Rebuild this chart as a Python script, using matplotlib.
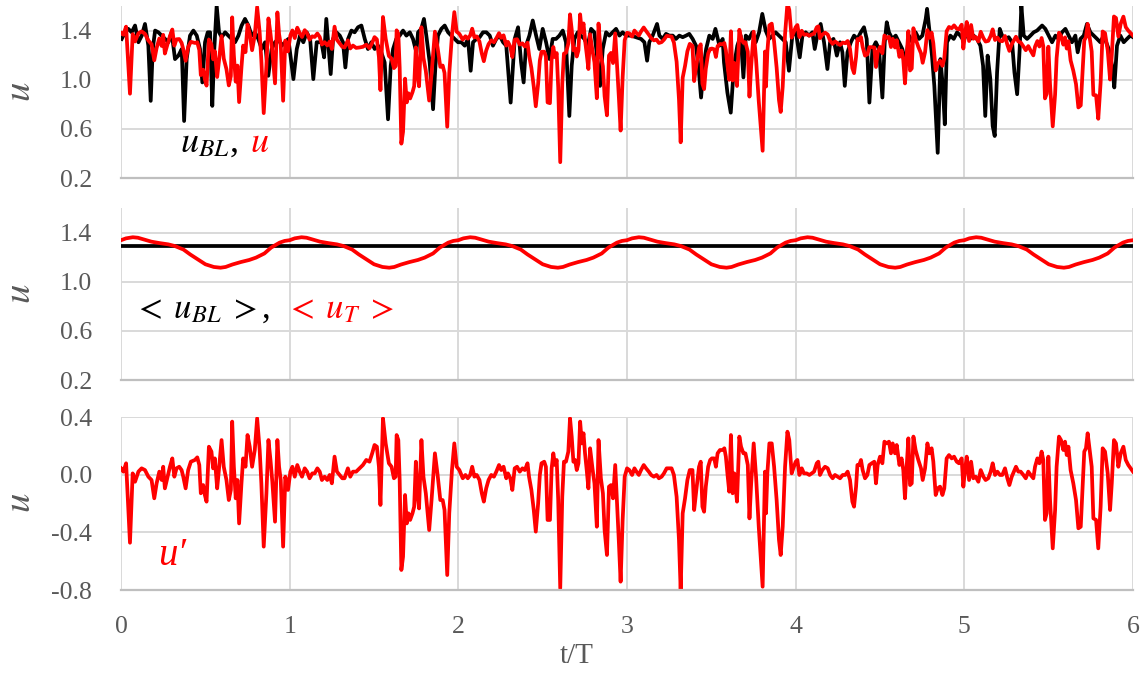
import numpy as np
import matplotlib.pyplot as plt

# u' (fluctuation)
t_prime = [
    0.000, 0.014, 0.030, 0.053, 0.069, 0.083, 0.103, 0.122, 0.142, 0.162,
    0.181, 0.197, 0.211, 0.227, 0.241, 0.250, 0.260, 0.276, 0.290, 0.304,
    0.316, 0.329, 0.345, 0.359, 0.369, 0.383, 0.398, 0.414, 0.438, 0.452,
    0.464, 0.473, 0.487, 0.497, 0.507, 0.521, 0.536, 0.546, 0.556, 0.570,
    0.582, 0.596, 0.609, 0.625, 0.639, 0.651, 0.659, 0.669, 0.680, 0.690,
    0.700, 0.714, 0.724, 0.738, 0.750, 0.763, 0.777, 0.793, 0.807, 0.822,
    0.832, 0.846, 0.862, 0.874, 0.886, 0.897, 0.913, 0.927, 0.937, 0.947,
    0.961, 0.974, 0.990, 1.004, 1.016, 1.030, 1.045, 1.059, 1.073, 1.089,
    1.103, 1.118, 1.134, 1.148, 1.164, 1.178, 1.191, 1.207, 1.223, 1.237,
    1.250, 1.266, 1.280, 1.296, 1.312, 1.325, 1.345, 1.359, 1.375, 1.394,
    1.414, 1.434, 1.454, 1.473, 1.489, 1.503, 1.517, 1.529, 1.538, 1.553,
    1.569, 1.588, 1.604, 1.618, 1.628, 1.634, 1.644, 1.652, 1.662, 1.672,
    1.684, 1.694, 1.704, 1.714, 1.728, 1.738, 1.748, 1.757, 1.767, 1.781,
    1.793, 1.807, 1.827, 1.841, 1.861, 1.877, 1.893, 1.907, 1.918, 1.934,
    1.946, 1.962, 1.976, 1.990, 2.006, 2.026, 2.042, 2.056, 2.070, 2.082,
    2.095, 2.109, 2.125, 2.139, 2.151, 2.165, 2.179, 2.195, 2.211, 2.225,
    2.241, 2.254, 2.268, 2.284, 2.294, 2.308, 2.320, 2.334, 2.348, 2.364,
    2.380, 2.394, 2.410, 2.419, 2.433, 2.447, 2.459, 2.473, 2.483, 2.493,
    2.509, 2.519, 2.529, 2.543, 2.553, 2.563, 2.573, 2.583, 2.592, 2.604,
    2.616, 2.626, 2.638, 2.652, 2.662, 2.672, 2.682, 2.692, 2.702, 2.712,
    2.722, 2.732, 2.742, 2.751, 2.761, 2.771, 2.781, 2.795, 2.807, 2.821,
    2.831, 2.845, 2.857, 2.867, 2.881, 2.893, 2.905, 2.917, 2.930, 2.940,
    2.952, 2.962, 2.974, 2.986, 3.000, 3.014, 3.030, 3.044, 3.056, 3.070,
    3.083, 3.099, 3.113, 3.129, 3.143, 3.159, 3.175, 3.189, 3.205, 3.219,
    3.235, 3.249, 3.264, 3.278, 3.294, 3.308, 3.318, 3.330, 3.344, 3.358,
    3.372, 3.388, 3.398, 3.412, 3.427, 3.437, 3.447, 3.457, 3.467, 3.481,
    3.493, 3.503, 3.517, 3.527, 3.537, 3.551, 3.567, 3.577, 3.586, 3.596,
    3.606, 3.616, 3.626, 3.636, 3.652, 3.666, 3.676, 3.690, 3.702, 3.716,
    3.726, 3.736, 3.751, 3.765, 3.781, 3.804, 3.818, 3.824, 3.832, 3.844,
    3.858, 3.872, 3.887, 3.901, 3.911, 3.923, 3.937, 3.951, 3.962, 3.976,
    3.986, 4.000, 4.010, 4.022, 4.036, 4.049, 4.065, 4.081, 4.095, 4.109,
    4.125, 4.134, 4.144, 4.158, 4.174, 4.190, 4.204, 4.219, 4.233, 4.249,
    4.263, 4.279, 4.294, 4.308, 4.322, 4.336, 4.346, 4.358, 4.366, 4.377,
    4.387, 4.397, 4.411, 4.425, 4.437, 4.451, 4.466, 4.476, 4.486, 4.500,
    4.514, 4.526, 4.540, 4.553, 4.565, 4.575, 4.589, 4.599, 4.615, 4.628,
    4.638, 4.648, 4.658, 4.668, 4.678, 4.688, 4.698, 4.711, 4.727, 4.743,
    4.753, 4.767, 4.781, 4.792, 4.806, 4.816, 4.830, 4.842, 4.856, 4.870,
    4.881, 4.895, 4.909, 4.925, 4.939, 4.955, 4.968, 4.984, 4.994, 5.004,
    5.014, 5.028, 5.040, 5.053, 5.067, 5.083, 5.097, 5.113, 5.126, 5.142,
    5.156, 5.168, 5.182, 5.196, 5.211, 5.225, 5.241, 5.255, 5.267, 5.281,
    5.294, 5.306, 5.320, 5.334, 5.350, 5.364, 5.379, 5.393, 5.409, 5.419,
    5.433, 5.445, 5.458, 5.468, 5.478, 5.488, 5.498, 5.508, 5.524, 5.538,
    5.547, 5.561, 5.573, 5.587, 5.597, 5.607, 5.617, 5.630, 5.646, 5.662,
    5.676, 5.690, 5.702, 5.711, 5.721, 5.731, 5.745, 5.755, 5.765, 5.781,
    5.794, 5.808, 5.820, 5.834, 5.850, 5.864, 5.874, 5.887, 5.899, 5.913,
    5.927, 5.943, 5.957, 5.972, 6.000,
]
u_prime = [
    0.044, 0.021, 0.079, -0.472, 0.009, -0.049, 0.021, 0.044, 0.032, -0.014,
    -0.037, -0.164, -0.060, 0.021, -0.037, 0.055, -0.095, -0.014, 0.055, 0.113,
    -0.014, 0.044, 0.055, 0.032, -0.014, -0.095, 0.032, 0.090, 0.102, 0.120,
    0.067, -0.129, -0.072, -0.141, -0.187, 0.194, 0.160, 0.044, 0.113, -0.095,
    0.055, 0.240, 0.055, -0.037, -0.176, -0.106, 0.368, 0.055, -0.164, -0.037,
    -0.338, -0.060, 0.113, 0.055, 0.275, 0.194, 0.055, 0.171, 0.391, 0.171,
    -0.060, -0.499, -0.129, 0.240, 0.102, -0.049, -0.326, 0.240, 0.055, -0.037,
    -0.499, -0.014, -0.106, 0.021, 0.055, -0.014, 0.067, 0.021, -0.014, 0.044,
    0.021, -0.025, 0.009, 0.009, 0.044, 0.021, -0.037, -0.014, -0.037, -0.002,
    -0.060, 0.125, 0.021, -0.002, -0.025, -0.025, 0.044, -0.014, 0.021, 0.021,
    0.044, 0.067, 0.102, 0.090, 0.148, 0.206, 0.194, 0.055, -0.210, 0.391,
    0.217, 0.079, 0.055, -0.025, -0.014, 0.275, 0.240, -0.037, -0.661, -0.569,
    -0.141, -0.338, -0.268, -0.314, -0.268, -0.222, 0.090, -0.129, -0.234, 0.240,
    -0.014, -0.129, -0.384, -0.176, 0.148, -0.002, -0.176, -0.176, -0.245, -0.696,
    -0.268, 0.032, 0.217, 0.055, 0.032, -0.025, -0.002, -0.025, -0.002, 0.055,
    -0.014, -0.002, -0.037, -0.129, -0.187, -0.095, -0.037, -0.002, -0.014, 0.021,
    0.067, 0.032, 0.055, -0.025, 0.009, -0.025, -0.106, 0.044, 0.055, 0.021,
    0.044, 0.032, 0.079, -0.014, -0.106, -0.245, -0.395, -0.199, -0.002, 0.079,
    0.090, 0.055, -0.314, -0.314, 0.044, 0.148, 0.067, 0.102, -0.176, -0.788,
    -0.153, 0.090, 0.090, 0.160, 0.391, 0.264, 0.090, 0.102, 0.032, 0.079,
    0.368, 0.217, 0.287, 0.148, 0.032, -0.095, 0.183, 0.044, -0.060, -0.361,
    0.240, -0.025, -0.129, -0.384, -0.557, -0.083, -0.072, -0.164, 0.067, -0.176,
    -0.476, -0.742, -0.314, -0.014, 0.044, 0.032, -0.002, 0.044, 0.021, -0.002,
    0.032, 0.067, 0.044, 0.021, -0.002, -0.014, -0.002, -0.025, -0.014, 0.009,
    0.044, 0.044, 0.044, -0.002, -0.153, -0.453, -0.800, -0.268, -0.164, -0.037,
    0.032, 0.032, -0.245, -0.095, 0.055, 0.090, -0.222, -0.257, -0.083, 0.055,
    0.102, 0.113, 0.113, 0.055, 0.148, 0.171, 0.171, 0.183, 0.125, -0.002,
    -0.118, 0.275, -0.129, 0.009, -0.187, 0.264, 0.194, 0.148, 0.148, 0.067,
    -0.303, -0.060, 0.217, -0.014, -0.361, -0.777, 0.021, -0.268, 0.009, 0.217,
    0.217, 0.055, -0.176, -0.453, -0.557, -0.361, 0.055, 0.298, 0.240, 0.009,
    0.044, 0.090, 0.102, -0.002, 0.044, 0.009, 0.009, -0.002, 0.009, 0.021,
    0.079, 0.090, -0.002, 0.032, 0.055, 0.044, -0.002, -0.025, -0.002, -0.014,
    -0.025, -0.002, -0.002, 0.021, -0.037, -0.187, -0.222, -0.083, 0.067, 0.067,
    0.102, 0.032, -0.025, -0.002, 0.067, 0.079, 0.090, -0.060, 0.067, 0.125,
    0.079, 0.229, 0.217, 0.229, 0.148, 0.217, 0.148, 0.206, 0.067, 0.113,
    0.032, -0.164, 0.055, 0.252, -0.072, -0.060, 0.264, 0.171, 0.102, 0.044,
    -0.037, 0.044, 0.217, 0.148, 0.183, 0.090, -0.141, -0.095, -0.083, -0.141,
    -0.095, 0.113, 0.136, 0.113, 0.125, 0.090, 0.079, 0.113, -0.083, 0.032,
    0.125, -0.037, 0.090, -0.025, -0.014, -0.049, 0.032, -0.014, -0.037, -0.025,
    0.021, 0.079, -0.002, 0.021, -0.002, -0.002, 0.044, -0.025, -0.072, -0.014,
    0.021, 0.055, 0.021, 0.021, -0.002, -0.025, 0.021, -0.002, -0.025, 0.055,
    0.113, 0.079, 0.160, 0.102, -0.314, -0.268, 0.125, -0.176, -0.511, -0.245,
    0.055, 0.264, 0.240, 0.171, 0.229, 0.136, 0.194, 0.032, -0.060, -0.176,
    -0.372, -0.361, -0.060, 0.160, 0.183, 0.287, 0.148, 0.055, -0.303, -0.314,
    -0.511, -0.222, 0.183, 0.160, 0.009, -0.245, -0.060, 0.240, 0.217, 0.055,
    0.148, 0.194, 0.102, 0.067, 0.021,
]

# u_BL (black)
t_bl = [
    0.004, 0.024, 0.043, 0.063, 0.083, 0.103, 0.123, 0.142, 0.162, 0.176,
    0.188, 0.202, 0.221, 0.241, 0.261, 0.281, 0.300, 0.320, 0.340, 0.360,
    0.374, 0.389, 0.409, 0.429, 0.449, 0.468, 0.482, 0.498, 0.514, 0.528,
    0.541, 0.553, 0.567, 0.581, 0.597, 0.617, 0.636, 0.656, 0.676, 0.696,
    0.715, 0.735, 0.755, 0.775, 0.794, 0.814, 0.834, 0.854, 0.873, 0.893,
    0.913, 0.933, 0.953, 0.972, 0.992, 1.022, 1.042, 1.061, 1.081, 1.101,
    1.121, 1.140, 1.160, 1.188, 1.204, 1.217, 1.231, 1.243, 1.257, 1.277,
    1.297, 1.316, 1.330, 1.346, 1.366, 1.385, 1.405, 1.425, 1.445, 1.464,
    1.484, 1.504, 1.524, 1.543, 1.563, 1.583, 1.599, 1.613, 1.632, 1.652,
    1.672, 1.692, 1.712, 1.731, 1.751, 1.761, 1.780, 1.796, 1.810, 1.830,
    1.850, 1.864, 1.879, 1.899, 1.919, 1.939, 1.958, 1.978, 1.998, 2.018,
    2.038, 2.057, 2.073, 2.087, 2.107, 2.126, 2.146, 2.166, 2.186, 2.205,
    2.225, 2.245, 2.265, 2.284, 2.310, 2.334, 2.354, 2.372, 2.387, 2.401,
    2.421, 2.441, 2.461, 2.480, 2.500, 2.520, 2.540, 2.559, 2.579, 2.599,
    2.619, 2.638, 2.658, 2.672, 2.688, 2.708, 2.727, 2.747, 2.767, 2.787,
    2.806, 2.822, 2.840, 2.856, 2.876, 2.895, 2.915, 2.935, 2.955, 2.974,
    2.994, 3.024, 3.053, 3.083, 3.103, 3.119, 3.132, 3.152, 3.178, 3.192,
    3.211, 3.231, 3.251, 3.271, 3.290, 3.310, 3.330, 3.350, 3.369, 3.389,
    3.409, 3.425, 3.439, 3.455, 3.469, 3.488, 3.508, 3.524, 3.548, 3.567,
    3.575, 3.595, 3.615, 3.634, 3.654, 3.674, 3.690, 3.704, 3.723, 3.743,
    3.763, 3.783, 3.802, 3.822, 3.842, 3.862, 3.881, 3.901, 3.921, 3.941,
    3.960, 3.980, 4.000, 4.024, 4.040, 4.059, 4.079, 4.099, 4.113, 4.128,
    4.148, 4.168, 4.188, 4.204, 4.224, 4.244, 4.263, 4.277, 4.291, 4.307,
    4.327, 4.346, 4.366, 4.386, 4.405, 4.421, 4.437, 4.455, 4.475, 4.494,
    4.514, 4.528, 4.540, 4.553, 4.573, 4.593, 4.612, 4.632, 4.652, 4.672,
    4.692, 4.711, 4.731, 4.751, 4.771, 4.779, 4.794, 4.808, 4.822, 4.842,
    4.858, 4.872, 4.884, 4.897, 4.917, 4.937, 4.957, 4.976, 4.996, 5.016,
    5.036, 5.055, 5.075, 5.095, 5.111, 5.124, 5.138, 5.154, 5.168, 5.180,
    5.194, 5.210, 5.224, 5.243, 5.263, 5.283, 5.297, 5.313, 5.328, 5.338,
    5.352, 5.372, 5.392, 5.411, 5.431, 5.461, 5.480, 5.500, 5.520, 5.540,
    5.559, 5.579, 5.599, 5.619, 5.638, 5.658, 5.672, 5.688, 5.708, 5.727,
    5.747, 5.767, 5.787, 5.806, 5.826, 5.856, 5.876, 5.889, 5.905, 5.925,
    5.945, 5.964, 5.984, 6.000,
]
u_bl = [
    1.332, 1.386, 1.414, 1.386, 1.441, 1.305, 1.359, 1.454, 1.277, 0.828,
    1.250, 1.400, 1.386, 1.359, 1.332, 1.305, 1.386, 1.168, 1.196, 1.250,
    0.664, 1.168, 1.359, 1.400, 1.359, 1.250, 0.978, 1.305, 1.386, 1.386,
    0.787, 1.250, 1.604, 1.386, 1.346, 1.386, 1.359, 1.332, 1.305, 1.359,
    1.441, 1.495, 1.441, 1.359, 1.386, 1.332, 1.250, 1.305, 1.032, 1.250,
    1.305, 1.332, 1.277, 1.305, 1.332, 1.005, 1.250, 1.359, 1.305, 1.386,
    1.332, 1.005, 1.305, 1.305, 1.182, 1.495, 1.250, 1.046, 1.332, 1.386,
    1.359, 1.305, 1.100, 1.332, 1.400, 1.386, 1.427, 1.441, 1.332, 1.250,
    1.305, 1.250, 1.277, 1.223, 1.141, 0.678, 1.114, 1.250, 1.332, 1.359,
    1.400, 1.359, 1.386, 1.332, 1.223, 1.386, 1.414, 1.495, 1.359, 1.141,
    0.760, 1.114, 1.359, 1.414, 1.441, 1.386, 1.359, 1.332, 1.305, 1.305,
    1.277, 1.332, 1.073, 1.305, 1.332, 1.346, 1.386, 1.386, 1.359, 1.277,
    1.332, 1.359, 1.305, 1.277, 0.814, 1.332, 1.427, 1.141, 0.978, 1.277,
    1.359, 1.482, 1.359, 1.250, 1.414, 1.305, 1.168, 1.332, 1.332, 1.359,
    1.400, 1.305, 0.705, 1.114, 1.332, 1.386, 1.359, 1.332, 1.277, 1.414,
    1.386, 1.196, 0.950, 1.250, 1.386, 1.359, 1.386, 1.414, 1.359, 1.386,
    1.359, 1.359, 1.346, 1.332, 1.305, 1.155, 1.305, 1.359, 1.454, 1.359,
    1.332, 1.373, 1.359, 1.359, 1.332, 1.359, 1.346, 1.359, 1.373, 1.332,
    1.277, 1.087, 0.855, 1.114, 1.250, 1.359, 1.332, 1.414, 1.277, 1.332,
    1.141, 0.896, 0.732, 1.114, 1.277, 1.359, 1.019, 1.359, 1.332, 1.386,
    1.305, 1.386, 1.536, 1.400, 1.332, 1.359, 1.386, 1.359, 1.332, 1.305,
    1.073, 1.359, 1.400, 1.182, 1.359, 1.386, 1.359, 1.386, 1.250, 1.359,
    1.454, 1.305, 1.087, 1.305, 1.332, 1.196, 1.305, 1.223, 0.950, 1.223,
    1.305, 1.359, 1.332, 1.386, 1.427, 1.332, 0.814, 1.250, 1.305, 1.250,
    0.855, 1.305, 1.468, 1.386, 1.332, 1.359, 1.305, 1.250, 1.141, 1.359,
    1.305, 1.386, 1.332, 1.359, 1.495, 1.577, 1.386, 1.196, 0.950, 0.405,
    1.168, 0.950, 0.637, 1.305, 1.359, 1.332, 1.386, 1.359, 1.318, 1.386,
    1.332, 1.359, 1.332, 1.277, 1.114, 0.705, 1.196, 1.005, 0.623, 0.542,
    1.059, 1.414, 1.359, 1.332, 1.346, 1.305, 1.059, 0.882, 1.250, 1.604,
    1.359, 1.332, 1.359, 1.386, 1.400, 1.441, 1.414, 1.359, 1.305, 1.359,
    1.332, 1.386, 1.414, 1.359, 1.305, 1.359, 1.223, 1.332, 1.359, 1.454,
    1.386, 1.359, 1.332, 1.305, 1.359, 1.250, 1.114, 0.937, 1.277, 1.359,
    1.305, 1.332, 1.359, 1.346,
]

# phase average <u_T> over one period (t/T from 0 to 1), repeats every period
phase = [0.00, 0.03, 0.07, 0.10, 0.14, 0.18, 0.23, 0.28, 0.32, 0.37, 0.41, 0.46,
         0.50, 0.55, 0.59, 0.62, 0.66, 0.71, 0.76, 0.80, 0.85, 0.89, 0.94, 0.97]
uT_period = [1.338, 1.353, 1.362, 1.358, 1.342, 1.326, 1.314, 1.304, 1.290, 1.262,
             1.222, 1.178, 1.142, 1.120, 1.114, 1.120, 1.140, 1.160, 1.177, 1.196,
             1.230, 1.278, 1.318, 1.332]
n_periods = 6
u_bl_mean = 1.29

xticks = [0, 1, 2, 3, 4, 5, 6]
yticks_top = [0.2, 0.6, 1.0, 1.4]
yticks_bot = [-0.8, -0.4, 0.0, 0.4]

# %%
t_prime = np.array(t_prime)
u_prime = np.array(u_prime)
t_T = np.concatenate([np.array(phase) + k for k in range(n_periods)] + [[n_periods]])
u_T = np.concatenate([np.tile(uT_period, n_periods), [uT_period[0]]])
# full signal u = <u_T> + u'
u_full = np.interp(t_prime, t_T, u_T) + u_prime

plt.rcParams["font.family"] = ["Liberation Serif", "DejaVu Serif"]
plt.rcParams["mathtext.fontset"] = "stix"

GRID = "#d9d9d9"
AXIS = "#bfbfbf"
GREY = "#595959"
RED = "#ff0000"
LW = 2.7

fig = plt.figure(figsize=(11.44, 6.74), dpi=100)
ax1 = fig.add_axes([0.1058, 0.7359, 0.8846, 0.2552])
ax2 = fig.add_axes([0.1058, 0.4362, 0.8846, 0.2552])
ax3 = fig.add_axes([0.1058, 0.1246, 0.8846, 0.2567])

ax1.plot(t_bl, u_bl, color="black", lw=LW)
ax1.plot(t_prime, u_full, color=RED, lw=LW)

ax2.plot([0, n_periods], [u_bl_mean, u_bl_mean], color="black", lw=LW)
ax2.plot(t_T, u_T, color=RED, lw=LW)

ax3.plot(t_prime, u_prime, color=RED, lw=LW)

for ax, ylim, yt in [(ax1, (0.2, 1.6), yticks_top), (ax2, (0.2, 1.6), yticks_top),
                     (ax3, (-0.8, 0.4), yticks_bot)]:
    ax.set_xlim(0, 6)
    ax.set_ylim(*ylim)
    ax.set_xticks(xticks)
    ax.set_yticks(yt)
    ax.set_yticklabels(["%.1f" % v for v in yt])
    ax.grid(True, color=GRID, lw=1.4)
    ax.set_axisbelow(True)
    for s in ["top", "right", "left"]:
        ax.spines[s].set_visible(False)
    ax.spines["bottom"].set_color(AXIS)
    ax.spines["bottom"].set_linewidth(1.6)
    ax.tick_params(axis="y", length=0, pad=21, labelsize=18.5, labelcolor=GREY)
    ax.tick_params(axis="x", length=0, pad=19, labelsize=18.5, labelcolor=GREY)

ax1.tick_params(axis="x", labelbottom=False)
ax2.tick_params(axis="x", labelbottom=False)

# y labels
for yc in [0.8635, 0.5638, 0.2537]:
    fig.text(0.018, yc, "$u$", rotation=90, fontsize=28, color=GREY, ha="center", va="center")
fig.text(0.504, 0.027, "t/T", fontsize=21, color=GREY, ha="center", va="center")

# labels inside the panels
ax1.text(0.058, 0.151, "$u_{BL}$,", transform=ax1.transAxes, fontsize=26, color="black", va="baseline")
ax1.text(0.127, 0.151, "$u$", transform=ax1.transAxes, fontsize=26, color=RED, va="baseline")
ax2.text(0.012, 0.36, r"$<\;u_{BL}\;>$,", transform=ax2.transAxes, fontsize=25, color="black", va="baseline")
ax2.text(0.162, 0.36, r"$<\;u_{T}\;>$", transform=ax2.transAxes, fontsize=25, color=RED, va="baseline")
ax3.text(0.037, 0.145, "u\u2032", transform=ax3.transAxes, fontsize=28, color=RED, va="baseline",
         style="italic")

plt.savefig("out.png", dpi=100)
